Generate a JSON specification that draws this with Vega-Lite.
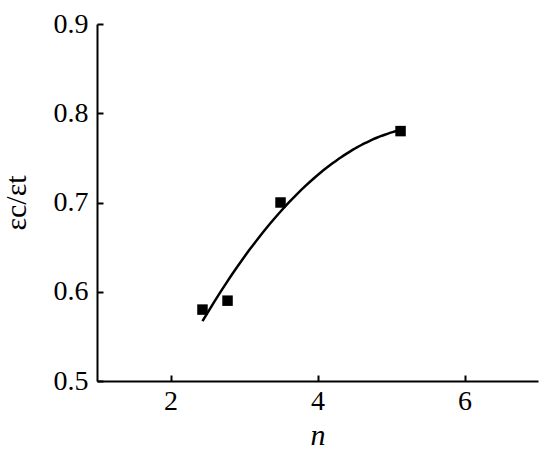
{
  "$schema": "https://vega.github.io/schema/vega-lite/v6.json",
  "width": 441,
  "height": 357,
  "autosize": {"type": "none"},
  "padding": {"left": 97, "top": 24, "right": 12, "bottom": 84},
  "background": "white",
  "config": {
    "view": {"stroke": null},
    "font": "Liberation Serif",
    "axis": {
      "domainColor": "black",
      "domainWidth": 2,
      "tickColor": "black",
      "tickWidth": 2,
      "tickSize": -6,
      "grid": false,
      "labelFont": "Liberation Serif",
      "labelFontSize": 28,
      "labelColor": "black",
      "titleFont": "Liberation Serif",
      "titleFontSize": 30,
      "titleColor": "black",
      "titleFontWeight": "normal"
    }
  },
  "data": {
    "values": [
      {"n": 2.435, "ratio": 0.58},
      {"n": 2.776, "ratio": 0.59},
      {"n": 3.497, "ratio": 0.70},
      {"n": 5.13, "ratio": 0.78}
    ]
  },
  "layer": [
    {
      "transform": [
        {"regression": "ratio", "on": "n", "method": "poly", "order": 2}
      ],
      "mark": {"type": "line", "color": "black", "strokeWidth": 2.5, "interpolate": "monotone"},
      "encoding": {
        "x": {"field": "n", "type": "quantitative"},
        "y": {"field": "ratio", "type": "quantitative"}
      }
    },
    {
      "mark": {"type": "point", "shape": "square", "filled": true, "color": "black", "opacity": 1, "size": 110},
      "encoding": {
        "x": {
          "field": "n",
          "type": "quantitative",
          "scale": {"domain": [1, 7], "nice": false, "zero": false},
          "axis": {"values": [2, 4, 6], "format": "d", "title": "n", "titleFontStyle": "italic", "labelPadding": 12, "titlePadding": 5, "labelFlush": false}
        },
        "y": {
          "field": "ratio",
          "type": "quantitative",
          "scale": {"domain": [0.5, 0.9], "nice": false, "zero": false},
          "axis": {"values": [0.5, 0.6, 0.7, 0.8, 0.9], "format": ".1f", "title": "εc/εt", "labelPadding": 15, "titlePadding": 22, "labelFlush": false}
        }
      }
    }
  ]
}
